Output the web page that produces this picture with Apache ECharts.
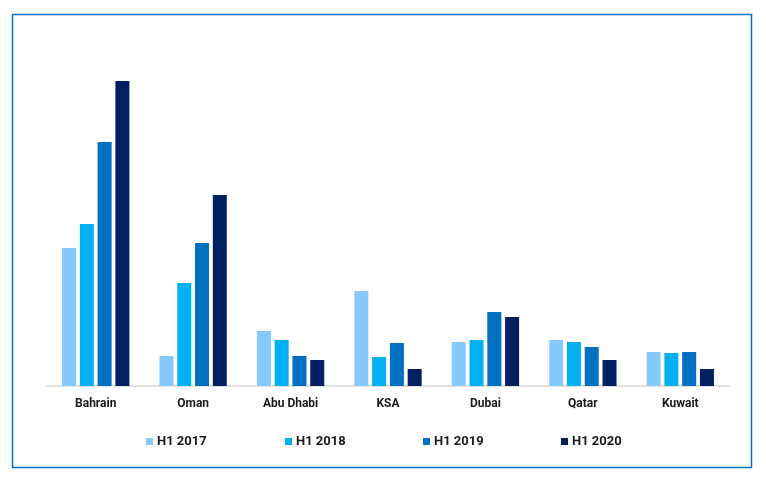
<!DOCTYPE html>
<html>
<head>
<meta charset="utf-8">
<script src="https://cdn.jsdelivr.net/npm/echarts@6/dist/echarts.min.js"></script>
<style>
html,body{margin:0;padding:0;background:#fff;}
#chart{width:766px;height:485px;}
</style>
</head>
<body>
<div id="chart"></div>
<script>
const categories = ['Bahrain', 'Oman', 'Abu Dhabi', 'KSA', 'Dubai', 'Qatar', 'Kuwait'];
const seriesNames = ['H1 2017', 'H1 2018', 'H1 2019', 'H1 2020'];
const h1_2017 = [138, 30, 55, 95, 44, 46, 34];
const h1_2018 = [162, 103, 46, 29, 46, 44, 33];
const h1_2019 = [244, 143, 30, 43, 74, 39, 34];
const h1_2020 = [305, 191, 26, 17, 69, 26, 17];
const colors = ['#85C9FF', '#00B0F0', '#0070C0', '#002060'];

const chart = echarts.init(document.getElementById('chart'), null, {renderer: 'canvas'});
const dataSets = [h1_2017, h1_2018, h1_2019, h1_2020];
const legendLefts = [141, 280, 418, 556];
chart.setOption({
  animation: false,
  backgroundColor: '#fff',
  graphic: [{
    type: 'rect',
    shape: {x: 12.5, y: 14.5, width: 739, height: 453},
    style: {fill: 'none', stroke: '#0070C0', lineWidth: 1.5},
    silent: true
  }],
  legend: seriesNames.map((n, i) => ({
    data: [n],
    left: legendLefts[i],
    top: 430,
    itemWidth: 7,
    itemHeight: 7,
    itemGap: 5,
    icon: 'rect',
    textStyle: {fontFamily: 'Roboto', fontWeight: 'bold', fontSize: 13, color: '#1a1a1a', padding: [0,0,0,-1]}
  })),
  grid: {left: 47, right: 37, top: 66, bottom: 99},
  xAxis: {
    type: 'category',
    data: categories,
    axisLine: {lineStyle: {color: '#D9D9D9', width: 1.5}},
    axisTick: {show: false},
    axisLabel: {fontFamily: 'Roboto', fontWeight: 'bold', fontSize: 12, color: '#1a1a1a', margin: 12}
  },
  yAxis: {
    type: 'value',
    min: 0,
    max: 320,
    show: false,
    splitLine: {show: false}
  },
  series: dataSets.map((d, i) => ({
    name: seriesNames[i],
    type: 'bar',
    data: d,
    barWidth: 14,
    barGap: '27%',
    itemStyle: {color: colors[i]}
  }))
});
</script>
</body>
</html>
